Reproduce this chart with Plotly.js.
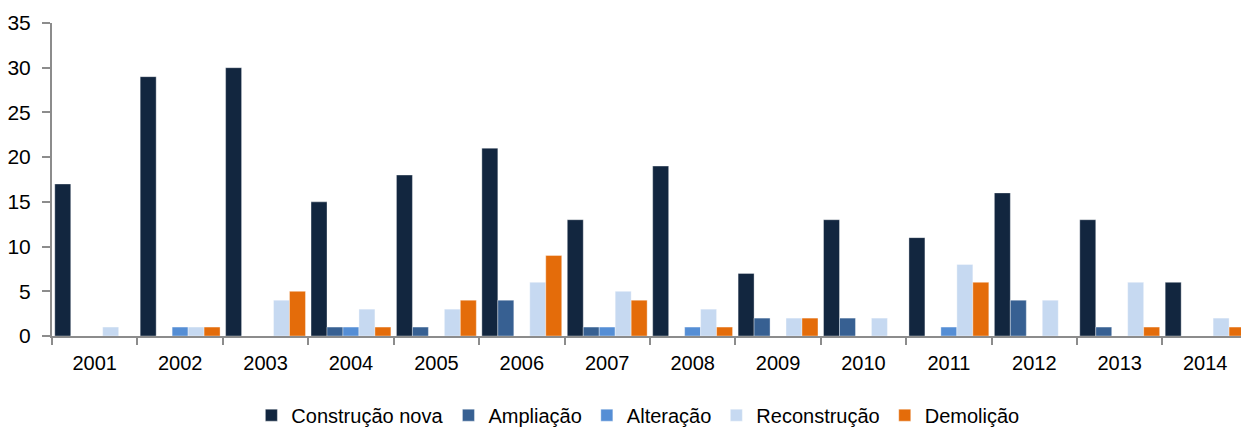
<!DOCTYPE html>
<html><head><meta charset="utf-8">
<script src="https://cdn.plot.ly/plotly-3.0.1.min.js"></script>
<style>html,body{margin:0;padding:0;background:#fff;}#chart{width:1241px;height:428px;}</style>
</head><body><div id="chart"></div>
<script>
const years = ['2001','2002','2003','2004','2005','2006','2007','2008','2009','2010','2011','2012','2013','2014'];
const construcaoNova = [17,29,30,15,18,21,13,19,7,13,11,16,13,6];
const ampliacao      = [0,0,0,1,1,4,1,0,2,2,0,4,1,0];
const alteracao      = [0,1,0,1,0,0,1,1,0,0,1,0,0,0];
const reconstrucao   = [1,1,4,3,3,6,5,3,2,2,8,4,6,2];
const demolicao      = [0,1,5,1,4,9,4,1,2,0,6,0,1,1];
const seriesNames  = ['Construção nova','Ampliação','Alteração','Reconstrução','Demolição'];
const seriesColors = ['#12263F','#376092','#558ED5','#C6D9F1','#E46C0A'];
const seriesData = [construcaoNova, ampliacao, alteracao, reconstrucao, demolicao];

const FONT = '"Liberation Sans", Arial, sans-serif';

const traces = seriesData.map((vals, i) => ({
  type: 'bar', x: years, y: vals, name: seriesNames[i],
  marker: {color: seriesColors[i], line: {color: 'rgba(255,255,255,0.6)', width: 0.6}},
  hoverinfo: 'x+y+name'
}));

const layout = {
  width: 1241, height: 428,
  margin: {l: 52, r: 0, t: 23, b: 92, pad: 0},
  paper_bgcolor: '#fff', plot_bgcolor: '#fff',
  barmode: 'group', bargap: 0.065, bargroupgap: 0,
  font: {family: FONT, size: 20, color: '#000'},
  xaxis: {
    type: 'category', range: [-0.5, 13.42],
    showgrid: false, zeroline: false,
    showline: true, linecolor: '#8c8c8c', linewidth: 2,
    ticks: 'outside', tickson: 'boundaries', ticklen: 7, tickwidth: 2, tickcolor: '#8c8c8c',
    tickfont: {family: FONT, size: 20, color: '#000'},
    ticklabelstandoff: 8
  },
  yaxis: {
    range: [0, 35], tickvals: [0,5,10,15,20,25,30,35],
    showgrid: false, zeroline: false,
    showline: true, linecolor: '#8c8c8c', linewidth: 2,
    ticks: 'outside', ticklen: 8, tickwidth: 2, tickcolor: '#8c8c8c',
    tickfont: {family: FONT, size: 21, color: '#000'},
    ticklabelstandoff: 7
  },
  legend: {
    orientation: 'h', xref: 'container', yref: 'container',
    x: 0.514, xanchor: 'center', y: 0.03, yanchor: 'middle',
    font: {family: FONT, size: 20, color: '#000'},
    itemwidth: 30, tracegroupgap: 0, bgcolor: 'rgba(0,0,0,0)'
  },
  showlegend: true
};

Plotly.newPlot('chart', traces, layout, {displayModeBar: false, staticPlot: true});
</script>
</body></html>
